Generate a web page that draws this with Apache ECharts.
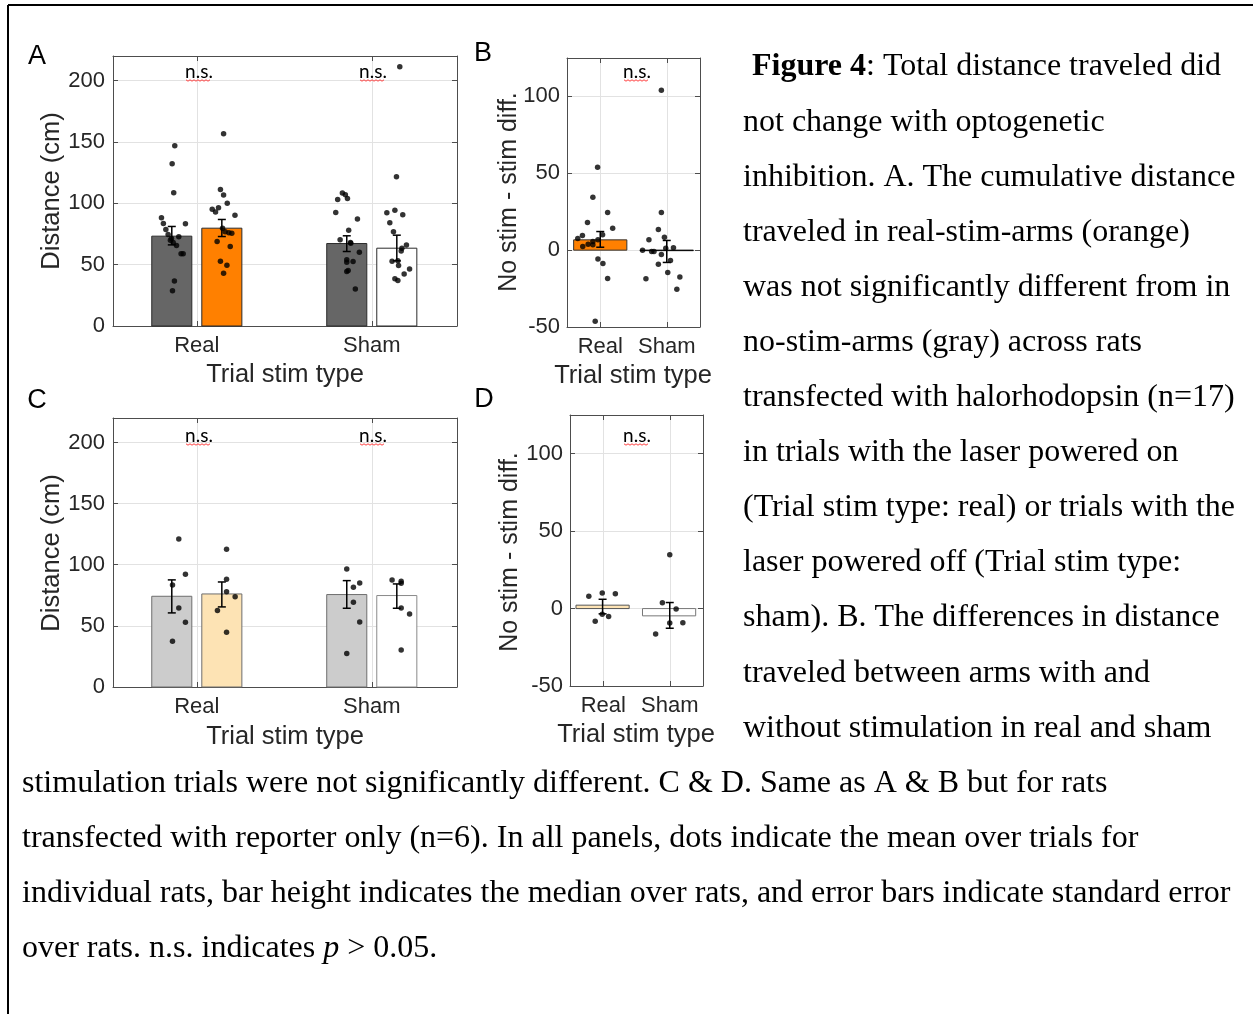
<!DOCTYPE html>
<html><head><meta charset="utf-8">
<script src="https://cdn.jsdelivr.net/npm/echarts@6/dist/echarts.min.js"></script>
<style>html,body{margin:0;padding:0;background:#fff}#c{width:1253px;height:1014px}</style>
</head><body><div id="c"></div>
<script>
// ---------------- data ----------------
const categories = ['Real', 'Sham'];
const distTicks = [0, 50, 100, 150, 200];
const diffTicks = [-50, 0, 50, 100];

// Panel A: halorhodopsin (n=17) distance; bars = median, error = SE range
const aNoStimMedian = [73.2, 67.2];
const aStimMedian = [79.7, 63.4];
const aNoStimErr = [[66.1, 81.1], [60.7, 73.5]];
const aStimErr = [[72.9, 86.8], [53.1, 74.0]];
const aNoStimRealDots = [[0.874,146.9],[0.859,132.2],[0.868,108.6],[0.798,88.2],[0.809,83.5],[0.823,78.6],[0.935,83.3],[0.836,74.6],[0.897,72.7],[0.849,69.9],[0.865,68.0],[0.884,65.6],[0.910,58.8],[0.922,58.8],[0.872,36.7],[0.861,28.8],[0.855,71.3]];
const aStimRealDots = [[1.153,156.7],[1.135,111.3],[1.153,106.7],[1.174,100.1],[1.088,95.2],[1.124,96.3],[1.107,92.8],[1.218,90.3],[1.147,79.7],[1.162,76.7],[1.183,75.9],[1.200,75.6],[1.116,68.8],[1.191,64.8],[1.135,52.8],[1.172,49.5],[1.153,43.0]];
const aNoStimShamDots = [[1.832,108.3],[1.849,106.9],[1.805,103.1],[1.861,103.9],[1.794,92.5],[1.918,87.1],[1.868,78.1],[1.819,70.2],[1.880,67.5],[1.929,60.1],[1.857,53.9],[1.857,52.0],[1.893,52.5],[1.865,45.2],[1.857,44.4],[1.906,30.2],[1.878,68.0]];
const aStimShamDots = [[2.160,211.2],[2.141,121.6],[2.086,92.2],[2.132,94.4],[2.177,90.6],[2.103,84.1],[2.124,76.7],[2.198,66.1],[2.172,63.4],[2.168,61.2],[2.116,52.8],[2.149,53.1],[2.153,49.3],[2.216,46.5],[2.185,42.4],[2.132,38.6],[2.149,37.0]];

// Panel B: halorhodopsin no stim - stim difference
const bDiffMedian = [6.7, -0.3];
const bDiffErr = [[1.9, 12.1], [-8.0, 6.3]];
const bRealDots = [[0.960,53.9],[0.889,34.4],[1.111,24.5],[0.808,18.0],[1.187,14.3],[1.035,10.0],[0.732,9.5],[0.662,7.6],[0.965,6.7],[0.889,5.6],[0.818,3.9],[0.889,3.5],[0.737,2.4],[0.965,-5.8],[1.040,-8.7],[1.111,-18.4],[0.924,-46.3]];
const bShamDots = [[1.919,104.1],[1.919,24.5],[1.874,13.4],[1.732,6.7],[1.965,8.4],[1.985,1.3],[2.101,1.5],[1.636,0],[1.773,-0.9],[1.808,-0.9],[1.919,-2.8],[2.056,-6.7],[1.874,-9.1],[2.015,-14.5],[2.197,-17.5],[1.687,-18.6],[2.152,-25.5]];

// Panel C: reporter only (n=6) distance
const cNoStimMedian = [74.2, 75.6];
const cStimMedian = [76.1, 74.8];
const cNoStimErr = [[60.6, 87.6], [64.4, 87.0]];
const cStimErr = [[65.5, 85.9], [64.4, 84.3]];
const cNoStimRealDots = [[0.897,121.1],[0.935,92.2],[0.861,83.5],[0.897,64.7],[0.935,52.9],[0.861,37.4]];
const cStimRealDots = [[1.170,112.7],[1.170,88.1],[1.170,77.8],[1.219,73.9],[1.118,62.5],[1.170,44.7]];
const cNoStimShamDots = [[1.857,96.6],[1.931,85.1],[1.895,81.6],[1.895,69.3],[1.931,53.2],[1.857,27.3]];
const cStimShamDots = [[2.116,87.6],[2.168,86.5],[2.168,84.9],[2.168,64.7],[2.216,59.8],[2.168,30.3]];

// Panel D: reporter only difference
const dDiffMedian = [2.2, -4.7];
const dDiffErr = [[-3.4, 6.0], [-12.7, 3.9]];
const dRealDots = [[0.783,8.0],[0.985,10.1],[1.182,9.5],[0.879,-8.2],[0.985,-3.7],[1.081,-5.2]];
const dShamDots = [[2.0,34.7],[1.889,3.7],[2.096,-0.2],[2.0,-9.3],[2.197,-9.1],[1.788,-16.4]];

const captionRight = [
  '{b|Figure 4}: Total distance traveled did',
  'not change with optogenetic',
  'inhibition. A. The cumulative distance',
  'traveled in real-stim-arms (orange)',
  'was not significantly different from in',
  'no-stim-arms (gray) across rats',
  'transfected with halorhodopsin (n=17)',
  'in trials with the laser powered on',
  '(Trial stim type: real) or trials with the',
  'laser powered off (Trial stim type:',
  'sham). B. The differences in distance',
  'traveled between arms with and',
  'without stimulation in real and sham'
];
const captionFull = [
  'stimulation trials were not significantly different. C & D. Same as A & B but for rats',
  'transfected with reporter only (n=6). In all panels, dots indicate the mean over trials for',
  'individual rats, bar height indicates the median over rats, and error bars indicate standard error',
  'over rats. n.s. indicates {i|p} > 0.05.'
];

// ---------------- layout / style ----------------
const SANS = '"Liberation Sans", Arial, Helvetica, sans-serif';
const SERIF = '"Liberation Serif", "Times New Roman", serif';
const TXT = '#262626';
const AXC = '#4d4d4d';
const GRIDC = '#e2e2e2';

const grids = [
  {left:113, top:56, width:344, height:270},
  {left:567, top:58, width:133, height:269},
  {left:113, top:418, width:344, height:269},
  {left:570, top:415, width:133, height:271}
];
const xRanges = [[0.521, 2.487],[0.5, 2.5],[0.521, 2.487],[0.5, 2.5]];
const yRanges = [[0, 220],[-50, 125],[0, 220],[-50, 125]];
const yTicksFor = [distTicks, diffTicks, distTicks, diffTicks];

const xAxis = [], yAxis = [];
grids.forEach((g, i) => {
  xAxis.push({
    type:'value', gridIndex:i, min:xRanges[i][0], max:xRanges[i][1],
    axisLine:{show:true, onZero:false, lineStyle:{color:AXC, width:1}},
    axisTick:{show:true, inside:true, length:5, customValues:[1,2], lineStyle:{color:AXC}},
    axisLabel:{customValues:[1,2], formatter:v => categories[Math.round(v)-1] || '', color:TXT, fontFamily:SANS, fontSize:22, margin:9},
    splitLine:{show:true, lineStyle:{color:GRIDC, width:1}}
  });
  xAxis.push({
    type:'value', gridIndex:i, position:'top', min:xRanges[i][0], max:xRanges[i][1],
    axisLine:{show:true, onZero:false, lineStyle:{color:AXC, width:1}},
    axisTick:{show:true, inside:true, length:5, customValues:[1,2], lineStyle:{color:AXC}},
    axisLabel:{show:false}, splitLine:{show:false}
  });
  yAxis.push({
    type:'value', gridIndex:i, min:yRanges[i][0], max:yRanges[i][1],
    axisLine:{show:true, onZero:false, lineStyle:{color:AXC, width:1}},
    axisTick:{show:true, inside:true, length:5, customValues:yTicksFor[i], lineStyle:{color:AXC}},
    axisLabel:{customValues:yTicksFor[i], color:TXT, fontFamily:SANS, fontSize:22, margin:(i%2? 7 : 8)},
    splitLine:{show:true, lineStyle:{color:GRIDC, width:1}}
  });
  yAxis.push({
    type:'value', gridIndex:i, position:'right', min:yRanges[i][0], max:yRanges[i][1],
    axisLine:{show:true, onZero:false, lineStyle:{color:AXC, width:1}},
    axisTick:{show:true, inside:true, length:5, customValues:yTicksFor[i], lineStyle:{color:AXC}},
    axisLabel:{show:false}, splitLine:{show:false}
  });
});

function barSeries(panel, xs, vals, width, fills, strokes) {
  return {
    type:'custom', xAxisIndex:panel*2, yAxisIndex:panel*2, z:2,
    data: vals.map((v, k) => [xs[k], v]),
    encode:{x:0, y:1},
    renderItem: (params, api) => {
      const x = api.value(0), v = api.value(1), k = params.dataIndex;
      const p0 = api.coord([x - width/2, Math.max(v, 0)]);
      const p1 = api.coord([x + width/2, Math.min(v, 0)]);
      return {type:'rect', shape:{x:p0[0], y:p0[1], width:p1[0]-p0[0], height:Math.max(p1[1]-p0[1], 0.5)},
        style:{fill:fills[k], stroke:strokes[k], lineWidth:1}};
    }
  };
}
function errSeries(panel, xs, errs) {
  return {
    type:'custom', xAxisIndex:panel*2, yAxisIndex:panel*2, z:4,
    data: errs.map((e, k) => [xs[k], e[0], e[1]]),
    encode:{x:0, y:[1,2]},
    renderItem: (params, api) => {
      const x = api.value(0);
      const lo = api.coord([x, api.value(1)]), hi = api.coord([x, api.value(2)]);
      const c = 4, st = {stroke:'#000', lineWidth:1.5};
      return {type:'group', children:[
        {type:'line', shape:{x1:lo[0], y1:lo[1], x2:hi[0], y2:hi[1]}, style:st},
        {type:'line', shape:{x1:lo[0]-c, y1:lo[1], x2:lo[0]+c, y2:lo[1]}, style:st},
        {type:'line', shape:{x1:hi[0]-c, y1:hi[1], x2:hi[0]+c, y2:hi[1]}, style:st}
      ]};
    }
  };
}
function dotSeries(panel, pts) {
  return {type:'scatter', xAxisIndex:panel*2, yAxisIndex:panel*2, z:5, data:pts,
    symbol:'circle', symbolSize:5.5, itemStyle:{color:'#000'}, silent:true};
}

const off = 0.143, wAC = 0.229, wBD = 0.8;
const series = [
  // A
  barSeries(0, [1-off, 2-off], aNoStimMedian, wAC, ['#666666','#666666'], ['#2b2b2b','#2b2b2b']),
  barSeries(0, [1+off, 2+off], aStimMedian, wAC, ['#ff8000','#ffffff'], ['#2b2b2b','#2b2b2b']),
  errSeries(0, [1-off, 2-off], aNoStimErr),
  errSeries(0, [1+off, 2+off], aStimErr),
  dotSeries(0, aNoStimRealDots), dotSeries(0, aStimRealDots),
  dotSeries(0, aNoStimShamDots), dotSeries(0, aStimShamDots),
  // B
  barSeries(1, [1, 2], bDiffMedian, wBD, ['#ff8000','#ffffff'], ['#333333','#000000']),
  errSeries(1, [1, 2], bDiffErr),
  dotSeries(1, bRealDots), dotSeries(1, bShamDots),
  // C
  barSeries(2, [1-off, 2-off], cNoStimMedian, wAC, ['#cccccc','#cccccc'], ['#6e6e6e','#6e6e6e']),
  barSeries(2, [1+off, 2+off], cStimMedian, wAC, ['#fde3b4','#ffffff'], ['#6e6e6e','#8a8a8a']),
  errSeries(2, [1-off, 2-off], cNoStimErr),
  errSeries(2, [1+off, 2+off], cStimErr),
  dotSeries(2, cNoStimRealDots), dotSeries(2, cStimRealDots),
  dotSeries(2, cNoStimShamDots), dotSeries(2, cStimShamDots),
  // D
  barSeries(3, [0.99, 1.99], dDiffMedian, wBD, ['#fde3b4','#ffffff'], ['#555555','#777777']),
  errSeries(3, [0.99, 2], dDiffErr),
  dotSeries(3, dRealDots), dotSeries(3, dShamDots)
];

// ---------------- texts ----------------
const graphic = [];
function txt(text, x, y, size, opts) {
  graphic.push(Object.assign({type:'text', x:x, y:y, silent:true, z:10,
    style:Object.assign({text:text, fontSize:size, fontFamily:SANS, fill:TXT, align:'center', verticalAlign:'middle'}, (opts && opts.style) || {})},
    opts && opts.rotation != null ? {rotation:opts.rotation} : {}));
}
// frame
graphic.push({type:'line', shape:{x1:8, y1:5, x2:1253, y2:5}, style:{stroke:'#000', lineWidth:2}, silent:true});
graphic.push({type:'line', shape:{x1:8, y1:5, x2:8, y2:1014}, style:{stroke:'#000', lineWidth:2}, silent:true});
// panel letters
txt('A', 37, 57, 27, {style:{fill:'#000'}});
txt('B', 483, 54, 27, {style:{fill:'#000'}});
txt('C', 37, 401, 27, {style:{fill:'#000'}});
txt('D', 484, 400, 27, {style:{fill:'#000'}});
// axis titles
txt('Distance (cm)', 52, 191, 25.5, {rotation:Math.PI/2});
txt('Distance (cm)', 52, 553, 25.5, {rotation:Math.PI/2});
txt('No stim - stim diff.', 509, 192, 25, {rotation:Math.PI/2});
txt('No stim - stim diff.', 510, 552, 25, {rotation:Math.PI/2});
txt('Trial stim type', 285, 375, 25.5);
txt('Trial stim type', 633, 376, 25.5);
txt('Trial stim type', 285, 737, 25.5);
txt('Trial stim type', 636, 735, 25.5);
// n.s. labels with red wavy underline
function ns(cx, cy) {
  txt('n.s.', cx, cy, 19, {style:{fontFamily:'Lato, "Open Sans", sans-serif', fill:'#000'}});
  const pts = [];
  for (let x = cx - 13, k = 0; x <= cx + 12; x += 2, k++) pts.push([x, cy + 8 + (k % 2 ? 1.2 : -0.2)]);
  graphic.push({type:'polyline', shape:{points:pts}, style:{stroke:'#ff4040', lineWidth:1, fill:null}, silent:true, z:10});
}
ns(199, 72); ns(373, 72); ns(637, 72);
ns(199, 436); ns(373, 436); ns(637, 436);
// caption
const lineStep = 55.1;
const lineTop = 67;
captionRight.forEach((t, k) => {
  graphic.push({type:'text', x:(k === 0 ? 752 : 743), y:lineTop + k*lineStep, silent:true,
    style:{text:t, fontSize:32, fontFamily:SERIF, fill:'#000', align:'left', verticalAlign:'middle',
      rich:{b:{fontWeight:'bold', fontSize:32, fontFamily:SERIF, fill:'#000'}}}});
});
captionFull.forEach((t, k) => {
  graphic.push({type:'text', x:22, y:lineTop + (13 + k)*lineStep, silent:true,
    style:{text:t, fontSize:32, fontFamily:SERIF, fill:'#000', align:'left', verticalAlign:'middle',
      rich:{i:{fontStyle:'italic', fontSize:32, fontFamily:SERIF, fill:'#000'}}}});
});

const chart = echarts.init(document.getElementById('c'), null, {renderer:'canvas'});
chart.setOption({
  animation:false,
  backgroundColor:'#ffffff',
  grid: grids.map(g => Object.assign({show:false, containLabel:false}, g)),
  xAxis: xAxis, yAxis: yAxis, series: series, graphic: graphic
});
</script></body></html>
